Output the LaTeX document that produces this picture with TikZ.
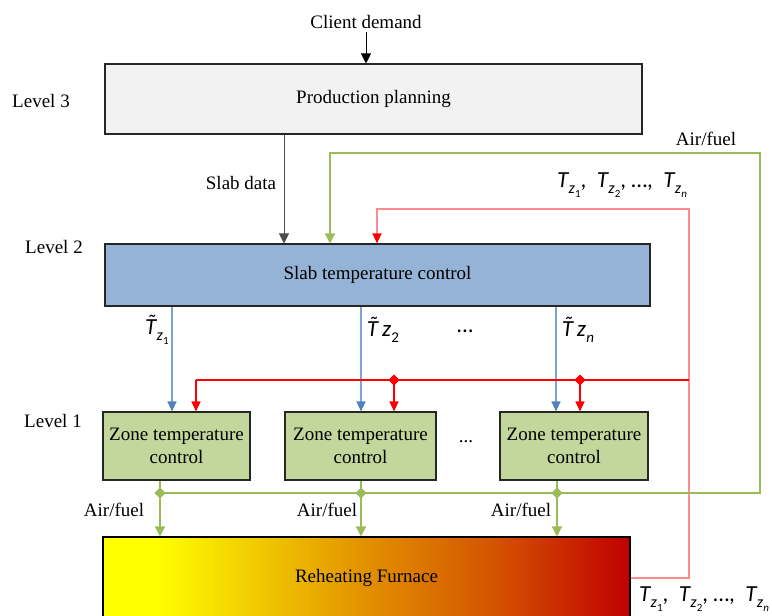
\documentclass[tikz,border=0pt]{standalone}
\usepackage{fontspec}
\setmainfont{Liberation Serif}
\newfontfamily\calfont{Carlito}
\usetikzlibrary{arrows.meta,shapes.geometric}
\definecolor{boxgray}{HTML}{F2F2F2}
\definecolor{boxblue}{HTML}{95B3D7}
\definecolor{boxgreen}{HTML}{C3D69B}
\definecolor{lgreen}{HTML}{9BBB59}
\definecolor{lblue}{HTML}{7FA3D6}
\definecolor{dblue}{HTML}{4F81BD}
\definecolor{bred}{HTML}{FF0000}
\definecolor{pred}{HTML}{FF8C8C}
\definecolor{fyel}{HTML}{FFFF00}
\definecolor{forA}{HTML}{F0C800}
\definecolor{forB}{HTML}{E29000}
\definecolor{forC}{HTML}{D45400}
\definecolor{fred}{HTML}{C00000}
\pgfdeclarehorizontalshading{furnshade}{100bp}{color(0bp)=(fyel); color(25bp)=(fyel); color(30bp)=(fyel); color(40bp)=(forA); color(50bp)=(forB); color(62bp)=(forC); color(75bp)=(fred); color(100bp)=(fred)}
\newcommand{\tT}{\accent"02DC T}
\newcommand{\Tsub}[1]{{\calfont\itshape T}\kern0.3pt\raisebox{-0.28em}{\fontsize{16}{16}\selectfont\calfont\itshape z\kern0.2pt\raisebox{-0.22em}{\fontsize{11}{11}\selectfont #1}}}
\newcommand{\TTa}[1]{{\calfont\itshape \tT}\kern0.3pt\raisebox{-0.28em}{\fontsize{16}{16}\selectfont\calfont\itshape z\kern0.2pt\raisebox{-0.22em}{\fontsize{11}{11}\selectfont #1}}}
\newcommand{\TTb}[1]{{\calfont\itshape \tT\,z\kern0.3pt\raisebox{-0.25em}{\fontsize{15}{15}\selectfont #1}}}
\begin{document}
\begin{tikzpicture}[x=1pt,y=-1pt,
  every node/.style={font=\fontsize{19}{23}\selectfont},
  boxstyle/.style={draw=black!85, line width=1.1pt, inner sep=0pt, align=center},
  blktip/.style={-{Triangle[width=10pt,length=10pt]}},
  gtip/.style={-{Triangle[width=10pt,length=10pt,color=lgreen]}},
  btip/.style={-{Triangle[width=9pt,length=10pt,color=dblue]}},
  rtip/.style={-{Triangle[width=9pt,length=10pt,color=bred]}},
  gline/.style={draw=lgreen, line width=1.5pt},
  bline/.style={draw=lblue, line width=1.2pt},
  rline/.style={draw=bred, line width=1.6pt},
  pline/.style={draw=pred, line width=1.2pt},
  gdia/.style={diamond, fill=lgreen, inner sep=0pt, minimum size=11pt},
  rdia/.style={diamond, fill=bred, inner sep=0pt, minimum size=11pt},
  tlab/.style={font=\fontsize{23}{23}\selectfont\calfont}]
\useasboundingbox (0,0) rectangle (772,616);

% boxes
\node[boxstyle, fill=boxgray, minimum width=537pt, minimum height=70pt] (prod) at (373.5,99) {Production planning};
\node[boxstyle, fill=boxblue, minimum width=545pt, minimum height=62pt] (slab) at (377.5,275) {Slab temperature control};
\node[boxstyle, fill=boxgreen, minimum width=147pt, minimum height=68pt] (z1) at (176.5,446) {Zone temperature\\control};
\node[boxstyle, fill=boxgreen, minimum width=151pt, minimum height=68pt] (z2) at (360.5,446) {Zone temperature\\control};
\node[boxstyle, fill=boxgreen, minimum width=148pt, minimum height=68pt] (z3) at (574,446) {Zone temperature\\control};
\node[draw=black, line width=1.1pt, shading=furnshade, minimum width=527pt, minimum height=82pt, inner sep=0pt] (furn) at (366.5,578) {Reheating Furnace};

% texts
\node (cd) at (366,22) {Client demand};
\node (l3) at (41,101) {Level 3};
\node (l2) at (54,247) {Level 2};
\node (l1) at (53,421) {Level 1};
\node (sdl) at (241,183) {Slab data};
\node (aft) at (706,139) {Air/fuel};
\node (af1) at (114,510) {Air/fuel};
\node (af2) at (327,510) {Air/fuel};
\node (af3) at (521,510) {Air/fuel};
\node (dz) at (466,442) {...};
\node[tlab] (ttop) at (622,185) {\Tsub{\upshape 1},\ \ \Tsub{\upshape 2}, \ldots, \ \Tsub{n}};
\node[tlab] (tbot) at (704,599) {\Tsub{\upshape 1},\ \ \Tsub{\upshape 2}, \ldots, \ \Tsub{n}};
\node[tlab] (tt1) at (157,330) {\TTa{\upshape 1}};
\node[tlab] (tt2) at (383,330) {\TTb{\upshape 2}};
\node[tlab] (tdots) at (465,331) {...};
\node[tlab] (tt3) at (578,330) {\TTb{\itshape n}};

% x positions
\coordinate (xsd) at (284,0);
\coordinate (xb1) at (172,0);
\coordinate (xb2) at (361,0);
\coordinate (xb3) at (556,0);

% junctions
\node[gdia] (gd1) at (160,493) {};
\node[gdia] (gd2) at (361,493) {};
\node[gdia] (gd3) at (557,493) {};
\node[rdia] (rd2) at (394,380) {};
\node[rdia] (rd3) at (580,380) {};
\coordinate (rk) at (196,380);
\coordinate (rj) at (689,380);
\coordinate (rc1) at (689,578);
\coordinate (rc2) at (689,209);
\coordinate (rc3) at (377,209);
\coordinate (gc1) at (760,493);
\coordinate (gc2) at (760,153);
\coordinate (gc3) at (330,153);

% black arrows
\draw[line width=1pt, blktip] (cd.south) -- (cd.south |- prod.north);
\draw[line width=1pt, draw=black!70, blktip] (prod.south -| xsd) -- (slab.north -| xsd);

% blue arrows
\draw[bline, btip] (slab.south -| xb1) -- (z1.north -| xb1);
\draw[bline, btip] (slab.south -| xb2) -- (z2.north -| xb2);
\draw[bline, btip] (slab.south -| xb3) -- (z3.north -| xb3);

% red feedback
\draw[pline, rtip] (furn.east) -- (rc1) -- (rc2) -- (rc3) -- (rc3 |- slab.north);
\draw[rline] (rj) -- (rd3.center) -- (rd2.center) -- (rk);
\draw[rline, line width=1.2pt, rtip] (rk) -- (rk |- z1.north);
\draw[rline, line width=1.2pt, rtip] (rd2.center) -- (rd2 |- z2.north);
\draw[rline, line width=1.2pt, rtip] (rd3.center) -- (rd3 |- z3.north);
\node[rdia] at (rd2) {};
\node[rdia] at (rd3) {};

% green air/fuel
\draw[gline, gtip] (gd1.center) -- (gd2.center) -- (gd3.center) -- (gc1) -- (gc2) -- (gc3) -- (gc3 |- slab.north);
\draw[gline, gtip] (z1.south -| gd1) -- (gd1 |- furn.north);
\draw[gline, gtip] (z2.south -| gd2) -- (gd2 |- furn.north);
\draw[gline, gtip] (z3.south -| gd3) -- (gd3 |- furn.north);
\node[gdia] at (gd1) {};
\node[gdia] at (gd2) {};
\node[gdia] at (gd3) {};
\end{tikzpicture}
\end{document}
